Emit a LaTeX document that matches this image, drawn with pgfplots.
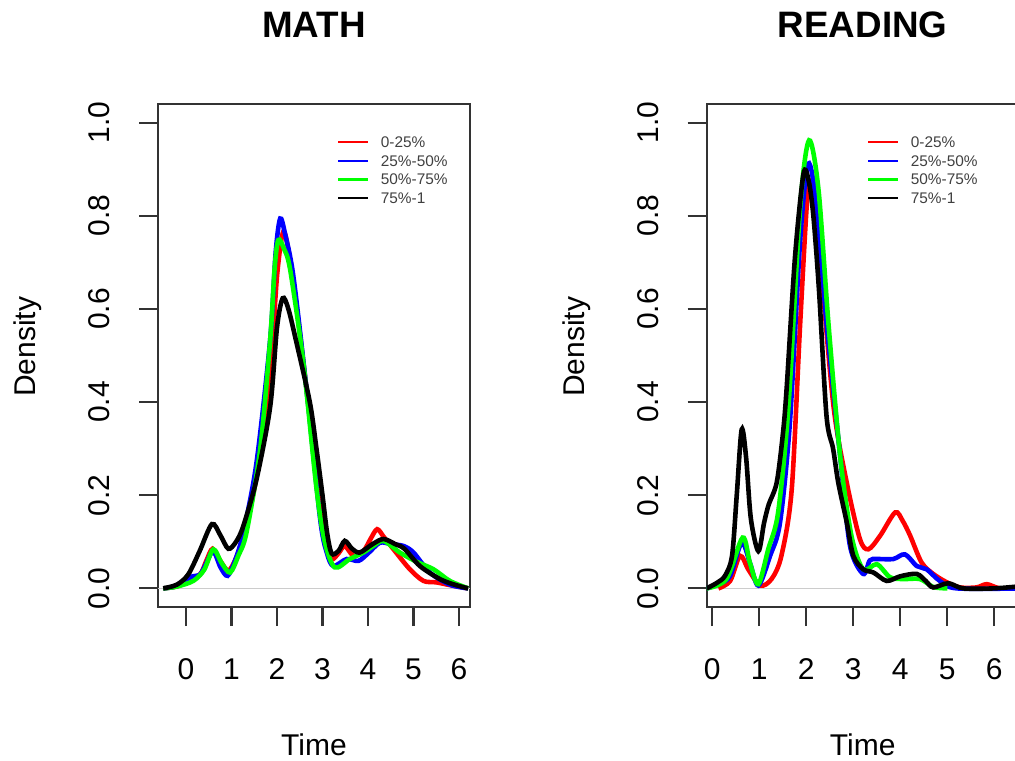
\documentclass[border=0pt]{standalone}
\usepackage{pgfplots}
\pgfplotsset{compat=1.18}
\usepackage{fontspec}
\setmainfont{Liberation Sans}

% density estimates of completion time by quartile group
\pgfplotstableread{
x y
-0.5 0
-0.2 0.004
0.015 0.013
0.31 0.03
0.45 0.06
0.585 0.085
0.75 0.06
0.93 0.038
1.1 0.065
1.26 0.113
1.55 0.24
1.85 0.46
2.0 0.67
2.14 0.766
2.28 0.71
2.43 0.605
2.65 0.427
2.8 0.3
2.95 0.177
3.08 0.1
3.2 0.063
3.35 0.075
3.49 0.091
3.68 0.07
3.9 0.08
4.05 0.105
4.2 0.127
4.35 0.11
4.56 0.084
4.92 0.041
5.22 0.016
5.5 0.013
5.8 0.007
6.2 0
}\mathA
\pgfplotstableread{
x y
-0.5 0
-0.2 0.005
0.09 0.024
0.31 0.03
0.45 0.055
0.6 0.08
0.76 0.045
0.915 0.027
1.08 0.06
1.26 0.12
1.55 0.27
1.85 0.534
1.97 0.72
2.07 0.794
2.18 0.76
2.36 0.67
2.65 0.427
2.95 0.148
3.1 0.075
3.24 0.048
3.53 0.063
3.79 0.059
4.0 0.075
4.26 0.098
4.5 0.095
4.78 0.091
5.0 0.077
5.36 0.034
5.8 0.008
6.2 0
}\mathB
\pgfplotstableread{
x y
-0.5 0
-0.2 0.004
0.16 0.016
0.4 0.04
0.6 0.084
0.78 0.055
0.97 0.034
1.15 0.07
1.33 0.12
1.63 0.298
1.85 0.534
1.95 0.69
2.03 0.748
2.15 0.73
2.29 0.684
2.58 0.484
2.87 0.213
3.05 0.1
3.27 0.045
3.6 0.063
3.9 0.077
4.1 0.09
4.34 0.102
4.7 0.077
5.07 0.057
5.44 0.041
5.8 0.016
6.2 0
}\mathC
\pgfplotstableread{
x y
-0.5 0
-0.2 0.008
0.05 0.03
0.3 0.08
0.57 0.138
0.75 0.115
0.93 0.085
1.1 0.1
1.26 0.134
1.55 0.234
1.85 0.39
2.0 0.56
2.125 0.623
2.25 0.6
2.43 0.527
2.725 0.398
2.87 0.298
3.0 0.2
3.1 0.12
3.2 0.075
3.35 0.08
3.49 0.102
3.65 0.085
3.82 0.077
4.1 0.095
4.34 0.106
4.6 0.095
4.8 0.085
5.14 0.048
5.58 0.02
5.9 0.008
6.2 0
}\mathD

\pgfplotstableread{
x y
0.13 0
0.38 0.016
0.59 0.07
0.77 0.04
1.02 0.006
1.26 0.02
1.47 0.07
1.69 0.213
1.87 0.57
2.04 0.862
2.15 0.83
2.29 0.712
2.58 0.39
2.86 0.227
3.14 0.106
3.32 0.084
3.57 0.113
3.89 0.163
4.05 0.145
4.21 0.113
4.45 0.056
4.7 0.031
4.99 0.013
5.27 0.002
5.62 0.002
5.84 0.009
6.12 0
6.6 0
}\readA
\pgfplotstableread{
x y
-0.12 0
0.16 0.01
0.38 0.027
0.625 0.098
0.8 0.055
0.98 0.006
1.23 0.07
1.44 0.141
1.65 0.355
1.87 0.748
2.04 0.912
2.22 0.82
2.43 0.57
2.72 0.284
2.93 0.091
3.21 0.031
3.35 0.06
3.5 0.063
3.85 0.063
4.1 0.073
4.35 0.048
4.56 0.041
4.84 0.016
5.2 0
6.6 0
}\readB
\pgfplotstableread{
x y
-0.12 0
0.3 0.02
0.646 0.109
0.8 0.055
0.98 0.009
1.19 0.084
1.40 0.163
1.62 0.39
1.87 0.82
2.06 0.962
2.26 0.855
2.47 0.57
2.72 0.284
2.96 0.113
3.21 0.041
3.5 0.052
3.78 0.024
4.06 0.02
4.42 0.02
4.7 0.003
5.0 0
}\readC
\pgfplotstableread{
x y
-0.12 0
0.1 0.012
0.27 0.027
0.42 0.07
0.52 0.2
0.625 0.341
0.72 0.28
0.82 0.15
0.98 0.08
1.1 0.14
1.2 0.18
1.37 0.227
1.5 0.33
1.58 0.427
1.76 0.712
1.94 0.89
2.05 0.875
2.15 0.8
2.27 0.64
2.43 0.37
2.57 0.3
2.68 0.227
2.86 0.142
3.0 0.07
3.21 0.041
3.43 0.034
3.71 0.016
4.0 0.026
4.35 0.031
4.55 0.015
4.7 0.002
5.02 0.011
5.34 0
6.0 0
6.6 0.005
}\readD

\definecolor{rred}{RGB}{255,0,0}
\definecolor{rblue}{RGB}{0,0,255}
\definecolor{rgreen}{RGB}{0,255,0}

\pgfplotsset{
  densitypanel/.style={
    scale only axis, width=156pt, height=251.5pt,
    anchor=south west,
    ymin=-0.04, ymax=1.04,
    xtick={0,1,2,3,4,5,6}, ytick={0,0.2,0.4,0.6,0.8,1.0},
    yticklabel style={/pgf/number format/fixed, /pgf/number format/fixed zerofill,
      /pgf/number format/precision=1},
    axis line style={black!80, line width=1.1pt},
    every tick/.style={black!80, line width=1.1pt},
    tick align=outside, major tick length=9.5pt,
    xtick pos=bottom, ytick pos=left,
    /pgf/number format/assume math mode=true,
    tick label style={font=\fontsize{15pt}{18pt}\selectfont},
    xticklabel style={anchor=base, yshift=-26.5pt},
    yticklabel style={xshift=-14.8pt, rotate=90, anchor=base},
    every axis x label/.style={at={(axis description cs:0.5,-0.2962)}, anchor=base,
      font=\fontsize{15pt}{18pt}\selectfont},
    every axis y label/.style={at={(axis description cs:-0.393,0.517)}, rotate=90, anchor=base,
      font=\fontsize{15pt}{18pt}\selectfont},
    title style={at={(axis description cs:0.5,1.1086)}, anchor=base,
      font=\fontsize{18.4pt}{22pt}\selectfont\bfseries},
    xlabel={Time}, ylabel={Density},
    legend image code/.code={
      \path[draw=none] (0pt,0pt) -- (21.3pt,0pt);
      \draw[#1, line width=1.1pt] (0pt,2.75pt) -- (15pt,2.75pt);},
    legend style={draw=none, fill=none, inner sep=0pt, column sep=0pt, row sep=1.95pt,
      font=\fontsize{7.7pt}{9pt}\selectfont, text=black!75,
      nodes={inner sep=0pt, text height=5.6pt, text depth=1.8pt},
      cells={anchor=base west}, anchor=north west},
    every axis plot/.append style={line width=2.3pt, smooth, tension=0.5},
  },
}

\begin{document}
\begin{tikzpicture}
\useasboundingbox (0pt,0pt) rectangle (507.5pt,380pt);

\begin{axis}[densitypanel, at={(79pt,76.5pt)},
  xmin=-0.615, xmax=6.242, title={MATH},
  legend style={at={(axis description cs:0.5728,0.9364)}}]
  \addplot[black!20, line width=0.6pt, sharp plot, forget plot] coordinates {(-0.615,0) (6.242,0)};
  \addplot[rred] table {\mathA};
  \addplot[rblue] table {\mathB};
  \addplot[rgreen] table {\mathC};
  \addplot[black] table {\mathD};
  \legend{0-25\%, 25\%-50\%, 50\%-75\%, 75\%-1}
\end{axis}

\begin{axis}[densitypanel, at={(353.35pt,76.5pt)},
  xmin=-0.119, xmax=6.519, title={READING},
  legend style={at={(axis description cs:0.5128,0.9364)}}]
  \addplot[black!20, line width=0.6pt, sharp plot, forget plot] coordinates {(-0.119,0) (6.519,0)};
  \addplot[rred] table {\readA};
  \addplot[rblue] table {\readB};
  \addplot[rgreen] table {\readC};
  \addplot[black] table {\readD};
  \legend{0-25\%, 25\%-50\%, 50\%-75\%, 75\%-1}
\end{axis}
\end{tikzpicture}
\end{document}
